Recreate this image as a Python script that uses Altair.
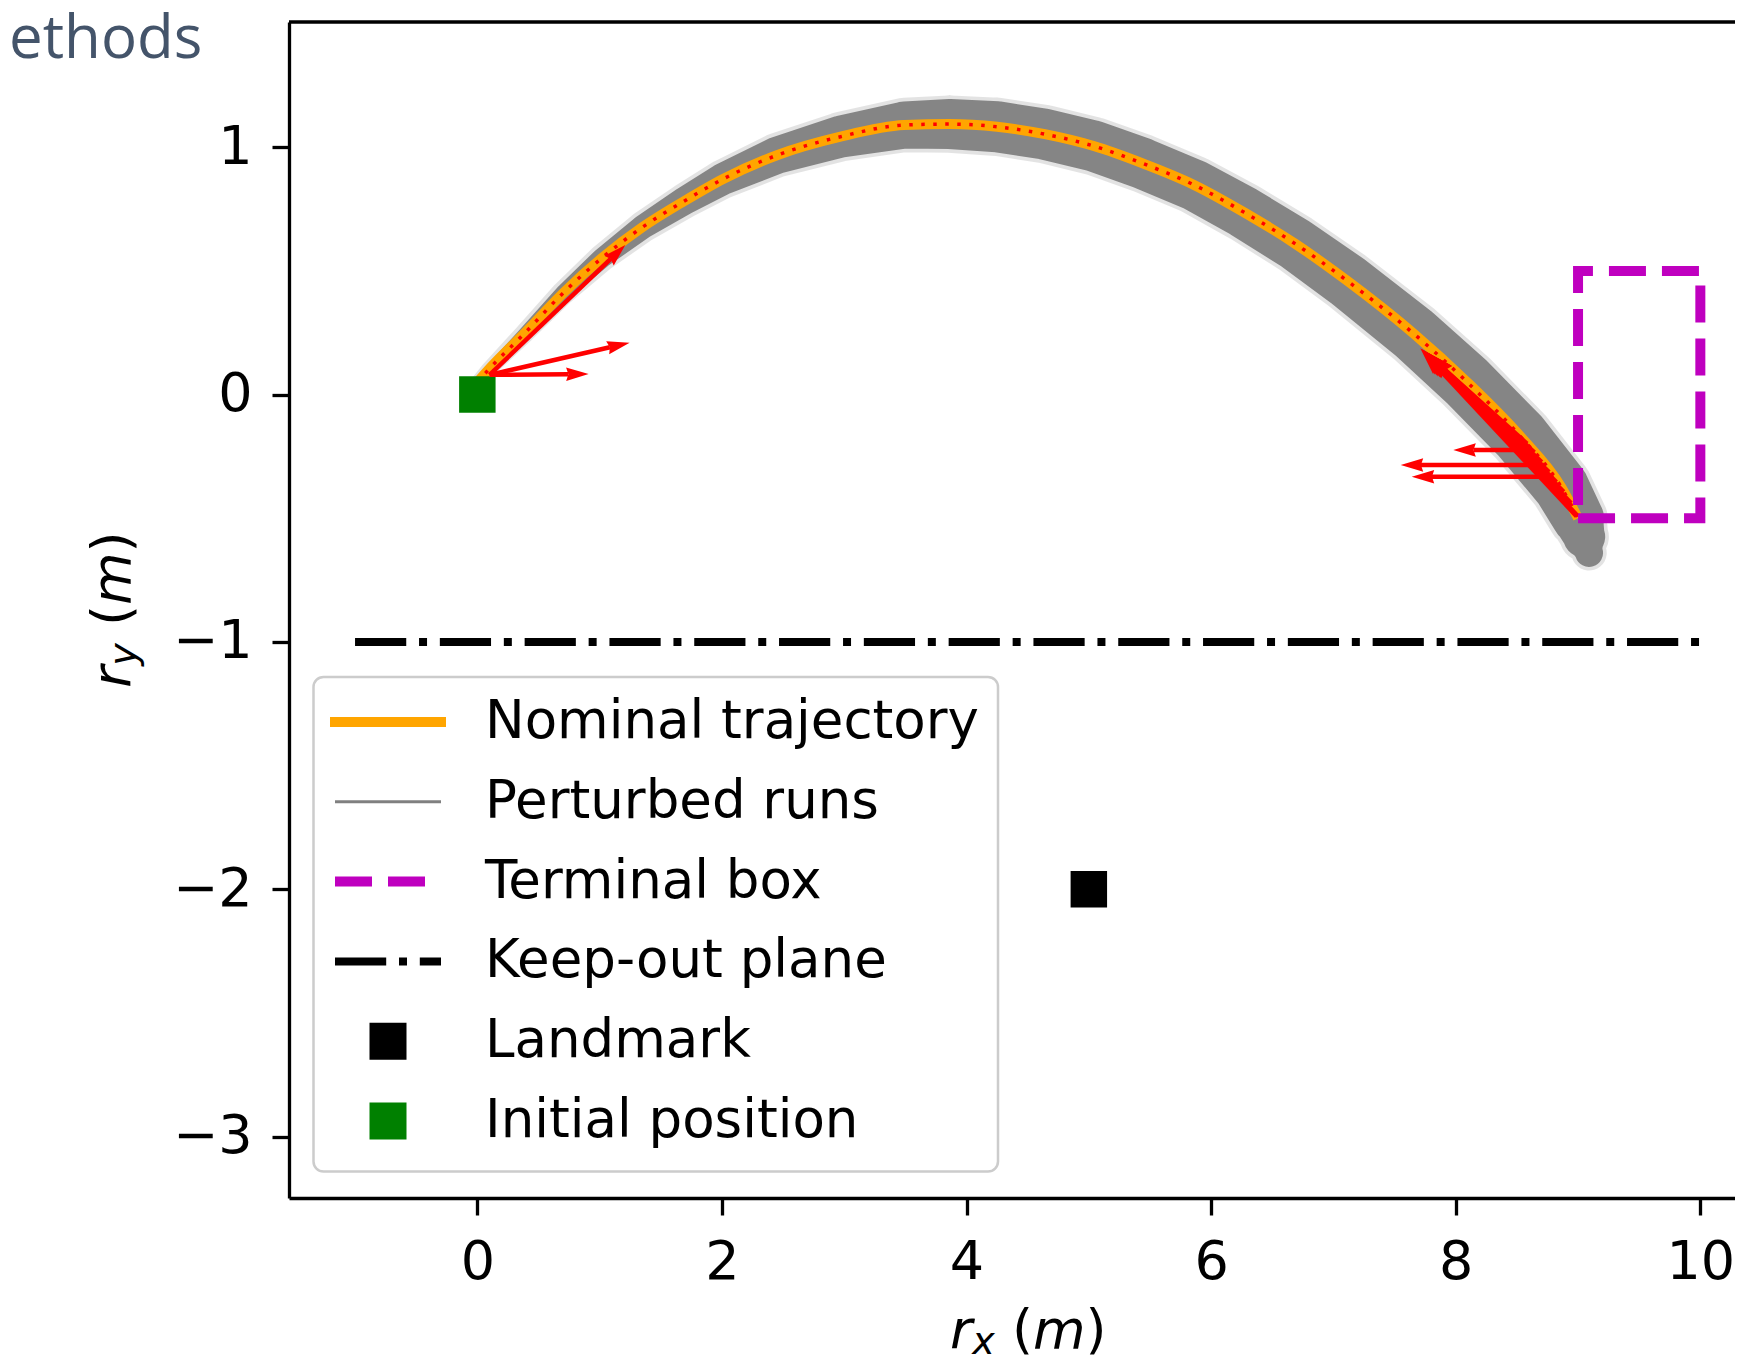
import altair as alt
import numpy as np
import pandas as pd

# ---------------- values ----------------
# nominal trajectory (m)
nom_x = [0.00, 0.09, 0.39, 0.70, 1.02, 1.35, 1.69, 2.01, 2.45, 2.97, 3.49, 3.86, 4.25,
         4.64, 5.04, 5.44, 5.86, 6.27, 6.69, 7.11, 7.66, 8.09, 8.53, 8.86, 9.00]
nom_y = [0.05, 0.10, 0.25, 0.41, 0.553, 0.677, 0.782, 0.872, 0.968, 1.043, 1.090, 1.094, 1.083,
         1.053, 1.005, 0.935, 0.848, 0.737, 0.609, 0.461, 0.245, 0.052, -0.170, -0.372, -0.50]

# envelope of the perturbed runs: centre line and spread (m)
run_x = nom_x + [9.05, 9.09]
run_y = nom_y + [-0.575, -0.64]
run_spread = [0.024, 0.032, 0.049, 0.065, 0.081, 0.097, 0.113, 0.129, 0.150, 0.170, 0.190, 0.202, 0.206,
              0.206, 0.206, 0.206, 0.206, 0.210, 0.214, 0.222, 0.230, 0.235, 0.235, 0.226, 0.210,
              0.170, 0.113]

# terminal box
box_x = [9.0, 10.0, 10.0, 9.0, 9.0]
box_y = [-0.5, -0.5, 0.5, 0.5, -0.5]

# keep-out plane
plane_x = [-1.0, 10.0]
plane_y = [-1.0, -1.0]

# landmark and initial position
landmark_x = [5.0]
landmark_y = [-2.0]
init_x = [0.0]
init_y = [0.0]

# red arrows (tail -> tip)
arrow_tail_x = [0.10, 0.10, 0.10, 8.58, 8.64, 8.70, 8.76, 8.82, 8.88, 8.94, 8.99, 8.62, 8.72, 8.80]
arrow_tail_y = [0.08, 0.08, 0.08, -0.20, -0.235, -0.275, -0.315, -0.355, -0.395, -0.44, -0.49,
                -0.224, -0.285, -0.332]
arrow_tip_x = [1.21, 1.245, 0.91, 7.76, 7.755, 7.75, 7.74, 7.735, 7.73, 7.72, 7.71, 7.98, 7.55, 7.64]
arrow_tip_y = [0.605, 0.21, 0.083, 0.165, 0.168, 0.171, 0.175, 0.178, 0.181, 0.184, 0.187,
               -0.224, -0.285, -0.332]

legend_labels = ["Nominal trajectory", "Perturbed runs", "Terminal box",
                 "Keep-out plane", "Landmark", "Initial position"]
x_ticks = [0, 2, 4, 6, 8, 10]
y_ticks = [-3, -2, -1, 0, 1]
corner_text = "ethods"

# ---------------- layout / style ----------------
W, H = 1446, 1176
PAD_L, PAD_T, PAD_B = 281, 14, 164
KX, KY = 122.3, 247.3
X_MIN = -1.54
X_MAX = X_MIN + W / KX
Y_MAX = 1.5067
Y_MIN = Y_MAX - H / KY
FONT = "DejaVu Sans"
FS = 54
# shaft width per arrow (px): the start fan, the overlapping final group, the horizontal ones
arrow_width = [4.5, 4.5, 4.5] + [5.5] * 8 + [4.5, 4.5, 4.5]

xs = alt.Scale(domain=[X_MIN, X_MAX], nice=False, zero=False)
ys = alt.Scale(domain=[Y_MIN, Y_MAX], nice=False, zero=False)
axis_common = dict(title=None, grid=False, domainColor="black", domainWidth=3.3,
                   tickColor="black", tickWidth=3.3, tickSize=17, labelFont=FONT,
                   labelFontSize=FS, labelColor="black", labelPadding=20,
                   labelFlush=False, labelOverlap=False)
x_axis = alt.Axis(values=x_ticks, **axis_common)
y_axis = alt.Axis(values=y_ticks, **axis_common)


def X(f):
    return alt.X(f, type="quantitative", scale=xs, axis=x_axis)


def Y(f):
    return alt.Y(f, type="quantitative", scale=ys, axis=y_axis)


# ---------------- tables ----------------
band = pd.DataFrame({"i": range(len(run_x)), "x": run_x, "y": run_y, "spread": run_spread})
band["soft"] = band["spread"] + 0.03
nom = pd.DataFrame({"i": range(len(nom_x)), "x": nom_x, "y": nom_y})
box = pd.DataFrame({"i": range(len(box_x)), "x": box_x, "y": box_y})
plane = pd.DataFrame({"x1": [plane_x[0]], "x2": [plane_x[1]], "y": [plane_y[0]]})
landmark = pd.DataFrame({"x": landmark_x, "y": landmark_y})
init = pd.DataFrame({"x": init_x, "y": init_y})

arrows = pd.DataFrame({"tx": arrow_tail_x, "ty": arrow_tail_y, "hx": arrow_tip_x, "hy": arrow_tip_y})
arrows["w"] = arrow_width
sx = (arrows.hx - arrows.tx) * KX
sy = (arrows.hy - arrows.ty) * KY
L = np.hypot(sx, sy)
arrows["ang"] = (np.degrees(np.arctan2(sx, sy)) + 360.0) % 360.0
back = 4.5 * arrows["w"]
arrows["ex"] = arrows.hx - sx / L * back / KX
arrows["ey"] = arrows.hy - sy / L * back / KY
arrows["hs"] = (2 * arrows["w"]) ** 2
HEAD = "M0,0L-1.5,5L0,4.5L1.5,5Z"

one = pd.DataFrame({"k": [0]})
size_scale = alt.Scale(domain=[0, 1], range=[0, KY])

# ---------------- layers ----------------
band_soft = alt.Chart(band).mark_trail(color="#808080", opacity=0.22).encode(
    x=X("x"), y=Y("y"), order="i:Q",
    size=alt.Size("soft:Q", scale=size_scale, legend=None))
band_core = alt.Chart(band).mark_trail(color="#808080", opacity=0.95).encode(
    x=X("x"), y=Y("y"), order="i:Q",
    size=alt.Size("spread:Q", scale=size_scale, legend=None))

nom_line = alt.Chart(nom).mark_line(color="#FFA500", strokeWidth=10, interpolate="monotone",
                                    strokeCap="butt").encode(x=X("x"), y=Y("y"), order="i:Q")
nom_dots = alt.Chart(nom).mark_line(color="#FF0000", strokeWidth=3.5, strokeDash=[3.5, 8.5],
                                    interpolate="monotone").encode(x=X("x"), y=Y("y"), order="i:Q")

box_line = alt.Chart(box).mark_line(color="#BF00BF", strokeWidth=10, strokeDash=[37, 16]).encode(
    x=X("x"), y=Y("y"), order="i:Q")

plane_line = alt.Chart(plane).mark_rule(color="black", strokeWidth=8,
                                        strokeDash=[51.2, 12.8, 8, 12.8]).encode(
    x=X("x1"), x2=alt.X2("x2"), y=Y("y"))

landmark_pt = alt.Chart(landmark).mark_square(color="black", size=1330, opacity=1).encode(
    x=X("x"), y=Y("y"))
init_pt = alt.Chart(init).mark_square(color="#008000", size=1330, opacity=1).encode(
    x=X("x"), y=Y("y"))

shafts = alt.Chart(arrows).mark_rule(color="#FF0000", strokeCap="butt").encode(
    x=X("tx"), y=Y("ty"), x2=alt.X2("ex"), y2=alt.Y2("ey"),
    strokeWidth=alt.StrokeWidth("w:Q", scale=None, legend=None))
heads = alt.Chart(arrows).mark_point(shape=HEAD, filled=True, color="#FF0000",
                                     opacity=1, strokeWidth=0).encode(
    x=X("hx"), y=Y("hy"), angle=alt.Angle("ang:Q", scale=None),
    size=alt.Size("hs:Q", scale=None, legend=None))

top_border = alt.Chart(one).mark_rule(color="black", strokeWidth=3.3).encode(
    x=alt.value(0), x2=alt.value(W), y=alt.value(0))

# ---------------- legend ----------------
ROW0, PITCH = 700, 79.8
rows = [ROW0 + k * PITCH for k in range(len(legend_labels))]
H1, H2, HC, TX = 46, 152, 99, 196

legend_layers = [
    alt.Chart(one).mark_rect(fill="white", fillOpacity=0.8, stroke="#cccccc", strokeWidth=2.5,
                             cornerRadius=10).encode(
        x=alt.value(24.5), x2=alt.value(709), y=alt.value(655), y2=alt.value(1149.6)),
    alt.Chart(one).mark_rule(color="#FFA500", strokeWidth=10, strokeCap="square").encode(
        x=alt.value(H1), x2=alt.value(H2), y=alt.value(rows[0])),
    alt.Chart(one).mark_rule(color="#808080", strokeWidth=3).encode(
        x=alt.value(H1), x2=alt.value(H2), y=alt.value(rows[1])),
    alt.Chart(one).mark_rule(color="#BF00BF", strokeWidth=10, strokeDash=[37, 16]).encode(
        x=alt.value(H1), x2=alt.value(H2), y=alt.value(rows[2])),
    alt.Chart(one).mark_rule(color="black", strokeWidth=8, strokeDash=[51.2, 12.8, 8, 12.8]).encode(
        x=alt.value(H1), x2=alt.value(H2), y=alt.value(rows[3])),
    alt.Chart(one).mark_square(color="black", size=1369, opacity=1).encode(
        x=alt.value(HC), y=alt.value(rows[4])),
    alt.Chart(one).mark_square(color="#008000", size=1369, opacity=1).encode(
        x=alt.value(HC), y=alt.value(rows[5])),
]
for lab, ry in zip(legend_labels, rows):
    legend_layers.append(
        alt.Chart(one).mark_text(text=lab, font=FONT, fontSize=53, color="black", align="left",
                                 baseline="middle").encode(x=alt.value(TX), y=alt.value(ry)))

# ---------------- axis titles (mathtext-like pieces) ----------------
title_layers = []
XT_BASE = 1326
x_pieces = [("r", "italic", FS, 661, 0), ("x", "italic", 38, 683.2, 6),
            ("(", "normal", FS, 722.9, 0), ("m", "italic", FS, 744.0, 0), (")", "normal", FS, 796.6, 0)]
for t, st, fs, px, dy in x_pieces:
    title_layers.append(
        alt.Chart(one).mark_text(text=t, font=FONT, fontSize=fs, fontStyle=st, color="black",
                                 align="left", baseline="alphabetic").encode(
            x=alt.value(px), y=alt.value(XT_BASE + dy)))
YT_BASE = -159
y_pieces = [("r", "italic", FS, 666, 0), ("y", "italic", 38, 643.8, 6),
            ("(", "normal", FS, 604.1, 0), ("m", "italic", FS, 583.0, 0), (")", "normal", FS, 530.4, 0)]
for t, st, fs, py, dx in y_pieces:
    title_layers.append(
        alt.Chart(one).mark_text(text=t, font=FONT, fontSize=fs, fontStyle=st, color="black",
                                 align="left", baseline="alphabetic", angle=270).encode(
            x=alt.value(YT_BASE + dx), y=alt.value(py)))

corner = alt.Chart(one).mark_text(text=corner_text, font="Open Sans", fontSize=60, color="#44546A",
                                  align="left", baseline="alphabetic").encode(
    x=alt.value(-PAD_L + 1), y=alt.value(36))

chart = alt.layer(
    band_soft, band_core, nom_line, nom_dots, box_line, plane_line, landmark_pt, init_pt,
    shafts, heads, top_border, *legend_layers, *title_layers, corner
).properties(
    width=W, height=H,
    autosize=alt.AutoSizeParams(type="none"),
    padding={"left": PAD_L, "top": PAD_T, "right": 0, "bottom": PAD_B},
).configure_view(stroke="transparent")

chart.save("out.html", embed_options={"renderer": "svg", "actions": False})
